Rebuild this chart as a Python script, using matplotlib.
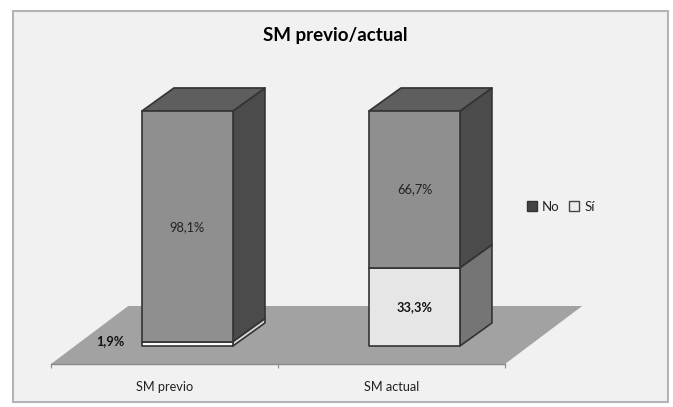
import matplotlib
matplotlib.use("Agg")
import matplotlib.pyplot as plt
from matplotlib.patches import Polygon, Patch, Rectangle

plt.rcParams['font.family'] = ['Lato', 'DejaVu Sans']

categories = ["SM previo", "SM actual"]
si_values = [1.9, 33.3]
no_values = [98.1, 66.7]
series_names = ["No", "Sí"]

W, H = 673, 407

# depth of the fake 3D box, in data units
DX = 0.141
DY = 9.8
BAR_W = 0.401
BAR_SHIFT = 0.101
PX_PER_PCT = 2.35
LABEL_SIZE = 9.2


def box(ax, x0, y0, y1, front, side, top=None):
    x1 = x0 + BAR_W
    edge = dict(edgecolor="#333333", linewidth=1.2, joinstyle="round", clip_on=False)
    ax.add_patch(Polygon([(x1, y0), (x1 + DX, y0 + DY), (x1 + DX, y1 + DY), (x1, y1)],
                         facecolor=side, zorder=3, **edge))
    if top is not None:
        ax.add_patch(Polygon([(x0, y1), (x1, y1), (x1 + DX, y1 + DY), (x0 + DX, y1 + DY)],
                             facecolor=top, zorder=3, **edge))
    ax.add_patch(Rectangle((x0, y0), BAR_W, y1 - y0, facecolor=front, zorder=4, **edge))


fig = plt.figure(figsize=(W / 100, H / 100), dpi=100, facecolor="white")

# chart area frame, kept behind the axes
fig.add_artist(Rectangle((13 / W, 1 - 402 / H), 655 / W, 391 / H, transform=fig.transFigure,
                         facecolor="#f1f1f1", edgecolor="#b4b4b4", linewidth=1.5, zorder=-1))

# axes spans the floor width, y scale puts 0 % on the bar foot
ax_top, ax_bottom = 100, 364
ax = fig.add_axes([51 / W, 1 - ax_bottom / H, 454 / W, (ax_bottom - ax_top) / H])
ax.patch.set_alpha(0)
ax.set_xlim(0, 2)
ax.set_ylim(-(ax_bottom - 346) / PX_PER_PCT, (346 - ax_top) / PX_PER_PCT)

# floor
y_front = ax.get_ylim()[0]
floor_dx = 2 * DX + 0.058
floor_dy = 58 / PX_PER_PCT
ax.add_patch(Polygon([(0, y_front), (2, y_front), (2 + floor_dx, y_front + floor_dy),
                      (floor_dx, y_front + floor_dy)],
                     facecolor="#a2a2a2", edgecolor="none", clip_on=False, zorder=1))

for i, (si, no) in enumerate(zip(si_values, no_values)):
    x0 = i + 0.5 - BAR_W / 2 + BAR_SHIFT
    box(ax, x0, 0, si, "#e6e6e6" if i else "#fbfbfb", "#757575" if i else "#d8d8d8")
    box(ax, x0, si, si + no, "#8f8f8f", "#4b4b4b", "#5e5e5e")

    no_txt = f"{no:.1f}%".replace(".", ",")
    si_txt = f"{si:.1f}%".replace(".", ",")
    ax.text(x0 + BAR_W / 2, si + no / 2 if i else 50.5, no_txt, ha="center", va="center",
            fontsize=LABEL_SIZE, color="#222222", zorder=6)
    if i:
        ax.text(x0 + BAR_W / 2, si / 2, si_txt, ha="center", va="center",
                fontsize=LABEL_SIZE, fontweight="bold", color="#111111", zorder=6)
    else:
        ax.text(x0 - 0.075, 2.2, si_txt, ha="right", va="center",
                fontsize=LABEL_SIZE, fontweight="bold", color="#111111", zorder=6)

for s in ["top", "left", "right"]:
    ax.spines[s].set_visible(False)
ax.spines["bottom"].set_color("#8a8a8a")
ax.spines["bottom"].set_linewidth(1.0)
ax.set_yticks([])
ax.set_xticks([0, 1, 2])
ax.set_xticklabels([])
ax.set_xticks([0.5, 1.5], minor=True)
ax.set_xticklabels(categories, minor=True, fontsize=LABEL_SIZE, color="#222222")
ax.tick_params(axis="x", which="major", length=3, color="#8a8a8a")
ax.tick_params(axis="x", which="minor", length=0, pad=12)

fig.text(335 / W, 1 - 35 / H, "SM previo/actual", ha="center", va="center",
         fontsize=13.5, fontweight="bold", color="black")

handles = [Patch(facecolor="#444444", edgecolor="#333333"),
           Patch(facecolor="#eeeeee", edgecolor="#444444")]
fig.legend(handles, series_names, ncol=2, frameon=False, fontsize=9.5,
           loc="center left", bbox_to_anchor=(515 / W, 1 - 207 / H),
           handlelength=0.8, handleheight=0.8, handletextpad=0.35, columnspacing=0.7,
           labelcolor="#222222")

fig.savefig("out.png", dpi=100, facecolor="white")
